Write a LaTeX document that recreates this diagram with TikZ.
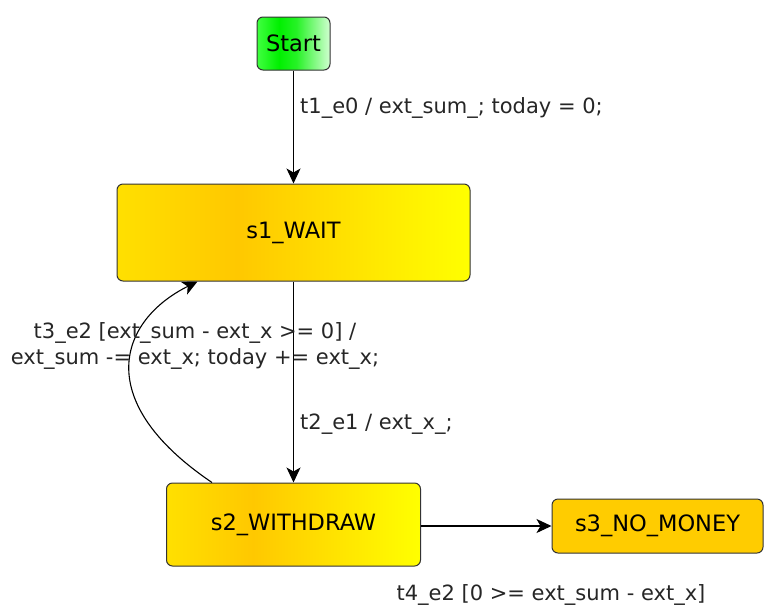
\documentclass[tikz,border=0pt]{standalone}
\usepackage{fontspec}
\setmainfont{DejaVu Sans}
\usetikzlibrary{arrows.meta,calc}
\definecolor{ylA}{HTML}{FFE000}
\definecolor{orA}{HTML}{FFC800}
\definecolor{ylB}{HTML}{FFFF00}
\definecolor{grA}{HTML}{40FF40}
\definecolor{grB}{HTML}{00F000}
\definecolor{grC}{HTML}{D0FFD0}
\definecolor{s3col}{HTML}{FFCC00}
\pgfdeclarehorizontalshading{stateshade}{100bp}{color(0bp)=(ylA); color(25bp)=(ylA); color(42bp)=(orA); color(75bp)=(ylB); color(100bp)=(ylB)}
\pgfdeclarehorizontalshading{startshade}{100bp}{color(0bp)=(grA); color(25bp)=(grA); color(40bp)=(grB); color(52bp)=(grB!85!white); color(75bp)=(grC); color(100bp)=(grC)}
\tikzset{
  statebox/.style={draw=black!80, line width=1pt, rounded corners=6pt, inner sep=0pt, font=\fontsize{22.5}{27}\selectfont},
  lbl/.style={font=\fontsize{21}{26}\selectfont, inner sep=0pt, text=black!85},
  conn/.style={line width=1.1pt, -{Stealth[length=15pt,width=14pt,inset=4pt]}}
}
\begin{document}
\begin{tikzpicture}[x=1pt,y=-1pt]
\useasboundingbox (0,0) rectangle (765,606);
\node[statebox, shading=startshade, minimum width=73pt, minimum height=53pt] (start) at (293.5,43.5) {Start};
\node[statebox, shading=stateshade, minimum width=353pt, minimum height=97pt] (s1) at (293.5,232.5) {s1\_WAIT};
\node[statebox, shading=stateshade, minimum width=254pt, minimum height=83pt] (s2) at (293.5,524.5) {s2\_WITHDRAW};
\node[statebox, fill=s3col, minimum width=211pt, minimum height=54pt] (s3) at (657.5,526) {s3\_NO\_MONEY};
\draw[conn] (start) -- (s1);
\draw[conn] (s1) -- (s2);
\draw[conn] (s2.east |- s3.west) -- (s3.west);
\coordinate (cA) at ($(s2.north west)+(46,0)$);
\coordinate (cB) at ($(s1.south west)+(81,0)$);
\draw[conn] (cA) .. controls (90,400) and (120,320) .. (cB);
\node[lbl, anchor=west] (l1) at (300,108) {t1\_e0 / ext\_sum\_; today = 0;};
\node[lbl, anchor=west] (l2) at (300,424) {t2\_e1 / ext\_x\_;};
\node[lbl, align=center] (l3) at (195,346) {t3\_e2 [ext\_sum - ext\_x >= 0] /\\ext\_sum -= ext\_x; today += ext\_x;};
\node[lbl] (l4) at (551,595) {t4\_e2 [0 >= ext\_sum - ext\_x]};
\end{tikzpicture}
\end{document}
